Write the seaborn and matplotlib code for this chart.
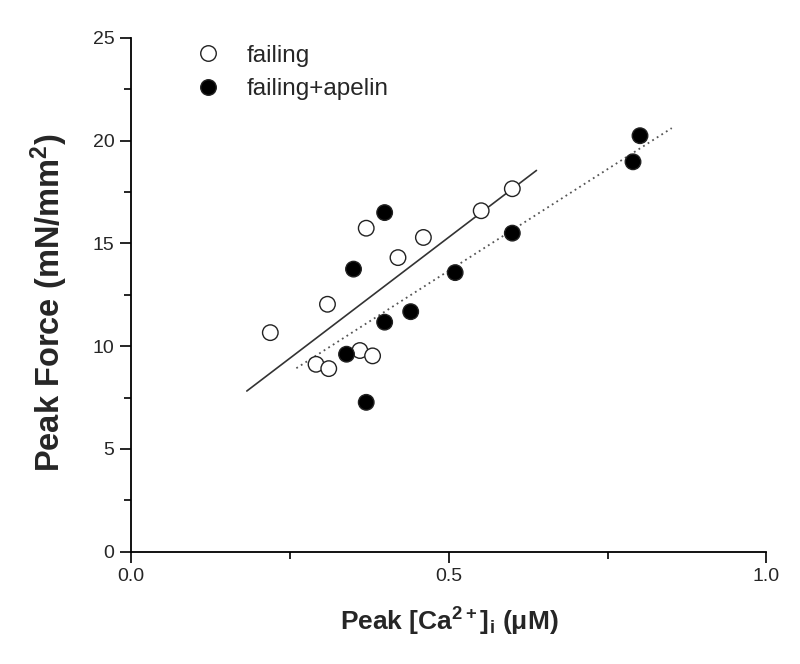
import numpy as np
import pandas as pd
import seaborn as sns
import matplotlib.pyplot as plt
from matplotlib.ticker import MultipleLocator

# Peak [Ca2+]i (uM) vs peak force (mN/mm2)
failing_ca = [0.219, 0.309, 0.370, 0.420, 0.460, 0.551, 0.600, 0.291, 0.311, 0.360, 0.380]
failing_force = [10.66, 12.04, 15.74, 14.31, 15.29, 16.59, 17.66, 9.12, 8.91, 9.79, 9.53]

apelin_ca = [0.399, 0.350, 0.399, 0.440, 0.510, 0.339, 0.370, 0.600, 0.801, 0.790]
apelin_force = [16.50, 13.75, 11.17, 11.68, 13.58, 9.61, 7.27, 15.50, 20.24, 18.97]

# regression lines (end points)
fit_failing_x = [0.182, 0.638]
fit_failing_y = [7.82, 18.55]
fit_apelin_x = [0.260, 0.851]
fit_apelin_y = [8.93, 20.61]

groups = ["failing", "failing+apelin"]

df = pd.DataFrame({
    "ca": failing_ca + apelin_ca,
    "force": failing_force + apelin_force,
    "group": [groups[0]] * len(failing_ca) + [groups[1]] * len(apelin_ca),
})

sns.set_style("ticks")
plt.rcParams["font.family"] = ["Liberation Sans", "DejaVu Sans"]
plt.rcParams["mathtext.fontset"] = "custom"
plt.rcParams["mathtext.rm"] = "Liberation Sans:bold"
plt.rcParams["mathtext.it"] = "Liberation Sans:bold"
plt.rcParams["mathtext.bf"] = "Liberation Sans:bold"

fig = plt.figure(figsize=(8, 6.64), dpi=100)
ax = fig.add_axes([0.164, 0.169, 0.794, 0.774])

sns.lineplot(x=fit_failing_x, y=fit_failing_y, ax=ax, color="#333333", lw=1.2)
sns.lineplot(x=fit_apelin_x, y=fit_apelin_y, ax=ax, color="#555555", lw=1.3,
             linestyle=(0, (1, 2)))

sns.scatterplot(data=df, x="ca", y="force", hue="group", style="group",
                palette={groups[0]: "white", groups[1]: "black"},
                markers={groups[0]: "o", groups[1]: "o"},
                s=125, edgecolor="#222222", linewidth=1.0, ax=ax, zorder=3)

# open circles need a black edge on a white face
for coll in ax.collections:
    coll.set_edgecolor("#222222")

ax.set_xlim(0, 1.0)
ax.set_ylim(0, 25)
ax.xaxis.set_major_locator(MultipleLocator(0.5))
ax.xaxis.set_minor_locator(MultipleLocator(0.25))
ax.yaxis.set_major_locator(MultipleLocator(5))
ax.yaxis.set_minor_locator(MultipleLocator(2.5))
ax.xaxis.set_major_formatter(lambda v, p: f"{v:.1f}")
ax.tick_params(which="major", length=8, width=1.2, labelsize=14, color="black", pad=4)
ax.tick_params(which="minor", length=5, width=1.2, color="black")
sns.despine(ax=ax)
for sp in ["left", "bottom"]:
    ax.spines[sp].set_linewidth(1.3)
    ax.spines[sp].set_color("black")

ax.set_xlabel("Peak [Ca$^{2+}$]$_\\mathrm{i}$ (\u03bcM)", fontsize=19,
              fontweight="bold")
ax.set_ylabel("Peak Force (mN/mm$^{2}$)", fontsize=23.5, fontweight="bold")
ax.xaxis.set_label_coords(0.5, -0.106)
ax.yaxis.set_label_coords(-0.096, 0.485)

ax.legend(loc="upper left", bbox_to_anchor=(0.067, 1.006), frameon=False,
          fontsize=17.5, handletextpad=0.6, labelspacing=0.48, markerscale=1.0,
          borderaxespad=0)

fig.savefig("out.png", dpi=100)
